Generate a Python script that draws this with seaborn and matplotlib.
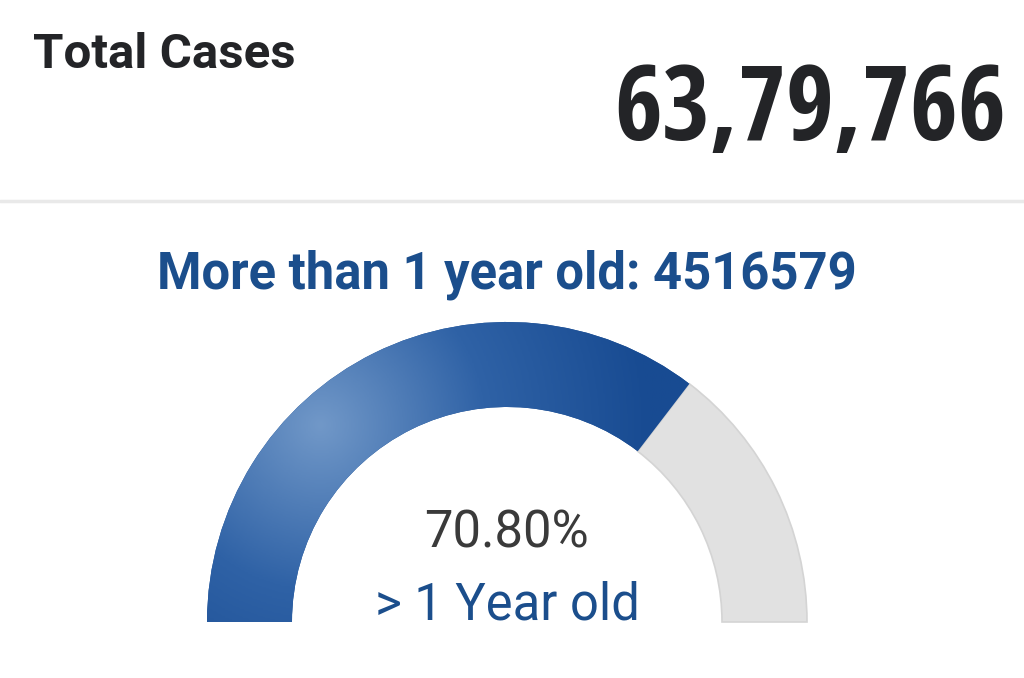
import numpy as np
import matplotlib
matplotlib.use("Agg")
import matplotlib.pyplot as plt
from matplotlib import font_manager
from matplotlib.font_manager import FontProperties
from matplotlib.colors import LinearSegmentedColormap
import seaborn as sns

total_cases_label = "63,79,766"
older_count = 4516579
older_share = 70.80            # percent of total
gauge_labels = ["> 1 Year old", "rest"]
gauge_values = [older_share, 100 - older_share]

sns.set_theme(style="white")
plt.rcParams["font.family"] = ["Roboto", "DejaVu Sans"]

TITLE_BLUE = "#1b4e8c"
BLUE = "#1c4f93"
GRAY = "#e1e1e1"
DARK = "#232427"

SANS = ("roboto", "open sans", "lato", "inter", "noto sans", "liberation sans", "dejavu sans")


def bold_upright_faces():
    """Upright bold sans faces that are installed (for the big counter)."""
    faces = []
    for f in font_manager.fontManager.ttflist:
        name = f.name.lower()
        key = (name + " " + f.fname).lower()
        if not name.startswith(SANS):
            continue
        if any(k in key for k in ("mono", "serif", "cjk", "math", "italic", "oblique")):
            continue
        if f.style != "normal":
            continue
        w = f.weight if isinstance(f.weight, int) else 400
        if w >= 600:
            faces.append(FontProperties(fname=f.fname))
    return faces or [FontProperties(family="Roboto", weight="bold")]


fig = plt.figure(figsize=(10.24, 6.78), dpi=100)
ax = fig.add_axes([0, 0, 1, 1])
ax.set_xlim(0, 1024)
ax.set_ylim(0, 678)
ax.set_aspect("equal")
ax.axis("off")
renderer = fig.canvas.get_renderer()

# header
fig.text(33 / 1024, 1 - 68 / 678, "Total Cases", fontsize=35.5, fontweight="bold",
         color=DARK, ha="left", va="baseline")

# pick the narrowest bold face: the one that reaches the largest size at the target width
big = fig.text(1006 / 1024, 1 - 140 / 678, total_cases_label, fontsize=100,
               color=DARK, ha="right", va="baseline")
best_size, best_fp = 0, None
for fp in bold_upright_faces():
    big.set_fontproperties(fp)
    big.set_fontsize(100)
    try:
        w = big.get_window_extent(renderer).width
    except Exception:
        continue
    size = 100 * 392 / w
    if size > best_size:
        best_size, best_fp = size, fp
big.set_fontproperties(best_fp)
big.set_fontsize(min(best_size, 132))

ax.axhline(678 - 201, color="#e9e9e9", lw=2.5)

# title
fig.text(507 / 1024, 1 - 288 / 678, f"More than 1 year old: {older_count}",
         fontsize=36.5, fontweight="bold", color=TITLE_BLUE, ha="center", va="baseline")

# gauge: half donut, bottom half left transparent
cx, cy, r_out, ring = 507, 678 - 622, 300, 85
wedges, _ = ax.pie(gauge_values + [100], center=(cx, cy), radius=r_out,
                   startangle=180, counterclock=False, frame=True,
                   colors=[BLUE, GRAY, "none"],
                   wedgeprops=dict(width=ring, linewidth=0))
wedges[1].set_edgecolor("#d4d4d4")
wedges[1].set_linewidth(1.2)
ax.set_xlim(0, 1024)
ax.set_ylim(0, 678)

# soft highlight on the blue arc
cmap = LinearSegmentedColormap.from_list("g", ["#7198c8", "#2f62a6", "#184b92"])
gx, gy = np.meshgrid(np.linspace(180, 720, 300), np.linspace(678 - 640, 678 - 300, 200))
dist = np.hypot(gx - 320, gy - (678 - 425))
img = ax.imshow(dist, extent=[180, 720, 678 - 640, 678 - 300], origin="lower",
                cmap=cmap, vmin=0, vmax=330, zorder=3)
img.set_clip_path(wedges[0])

fig.text(507 / 1024, 1 - 547 / 678, f"{older_share:.2f}%", fontsize=36.5,
         color="#3a3a3a", ha="center", va="baseline")
fig.text(507 / 1024, 1 - 620 / 678, gauge_labels[0], fontsize=36.5,
         color=TITLE_BLUE, ha="center", va="baseline")

fig.savefig("out.png", dpi=100, facecolor="white")
